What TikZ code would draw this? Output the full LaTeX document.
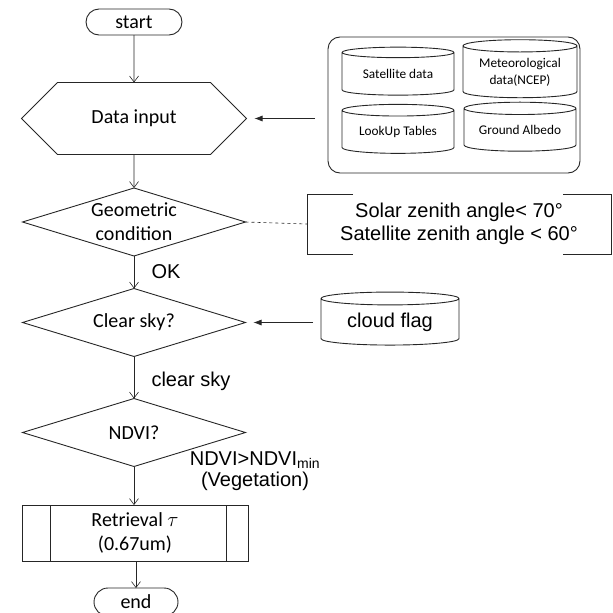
\documentclass[tikz,border=0pt]{standalone}
\usepackage{fontspec}
\setmainfont{Carlito}
\newfontfamily\arialfont{Liberation Sans}
\usetikzlibrary{shapes.geometric,shapes.misc,arrows.meta,positioning}

\begin{document}
\begin{tikzpicture}[x=1pt,y=-1pt,line width=0.9pt,draw=black!85,
  every node/.style={font=\fontsize{20}{24}\selectfont,align=center,inner sep=0pt,outer sep=0pt},
  term/.style={draw,rounded rectangle,minimum width=96pt,minimum height=26pt},
  hexbox/.style={draw,chamfered rectangle,chamfered rectangle xsep=45pt,chamfered rectangle ysep=27.5pt,minimum width=225pt,minimum height=55pt},
  decision/.style={draw,diamond,aspect=3.3,inner xsep=-10pt,inner ysep=-16pt,minimum width=223pt,minimum height=68pt},
  process/.style={draw,rectangle,minimum width=226pt,minimum height=56pt},
  store/.style={draw,cylinder,shape border rotate=90,aspect=0.15,font=\fontsize{13.3}{17}\selectfont},
  note/.style={font=\arialfont\fontsize{20}{23}\selectfont},
  flow/.style={-{Straight Barb[length=6pt,width=9pt]},line width=0.6pt},
  feed/.style={-{Latex[length=8pt,width=6pt]},line width=0.6pt}]
\useasboundingbox (0,0) rectangle (613,613);

\node[term] (start) at (134,22) {start};
\node[hexbox] (input) at (134,118.5) {Data input};
\node[decision] (geo) at (134,222) {Geometric\\condition};
\node[decision] (clear) at (134,322.5) {Clear sky?};
\node[decision] (ndvi) at (134,432.5) {NDVI?};
\node[process] (retr) at (135,533) {Retrieval $\tau$\\(0.67um)};
\node[term,minimum width=84pt,minimum height=28pt] (end) at (136,602) {end};

\node[draw,rounded corners=12pt,minimum width=252pt,minimum height=136pt] (db) at (454,105) {};
\node[store,minimum width=112pt,minimum height=48pt] (sat) at (398,74) {Satellite data};
\node[store,minimum width=114pt,minimum height=58pt] (met) at (520,72) {Meteorological\\data(NCEP)};
\node[store,minimum width=112pt,minimum height=49pt] (lut) at (398,132) {LookUp Tables};
\node[store,minimum width=112pt,minimum height=49pt] (alb) at (520,130) {Ground Albedo};
\node[store,note,minimum width=138pt,minimum height=53pt] (cloud) at (390,322) {cloud flag};
\node[note,minimum width=304pt,minimum height=60pt] (cond) at (459,224) {Solar zenith angle< 70°\\Satellite zenith angle < 60°};

\node[note] (ok) at (166,272) {OK};
\node[note] (sky) at (191,381) {clear sky};
\node[note,font=\arialfont\fontsize{20}{21}\selectfont] (veg) at (255,471) {NDVI>NDVI\textsubscript{min}\\(Vegetation)};

\coordinate (dbin) at (315,118.5);
\coordinate (cfl) at (313,322.5);

\draw[flow] (start) -- (input);
\draw[flow] (input) -- (geo);
\draw[flow] (geo) -- (clear);
\draw[flow] (clear) -- (ndvi);
\draw[flow] (ndvi) -- (retr.north -| ndvi);
\draw[flow] (retr.south -| end) -- (end);
\draw[feed] (dbin) -- ([xshift=8pt]input.east);
\draw[feed] (cfl) -- ([xshift=8pt]clear.east);
\draw[dashed,line width=0.6pt] (geo.east) -- (cond.west);

\draw ([xshift=28pt]retr.north west) -- ([xshift=28pt]retr.south west);
\draw ([xshift=-22pt]retr.north east) -- ([xshift=-22pt]retr.south east);
\draw[line width=0.6pt] ([xshift=46pt]cond.north west) -| (cond.south west) -- ++(46,0);
\draw[line width=0.6pt] ([xshift=-48pt]cond.north east) -| (cond.south east) -- ++(-48,0);
\end{tikzpicture}
\end{document}
